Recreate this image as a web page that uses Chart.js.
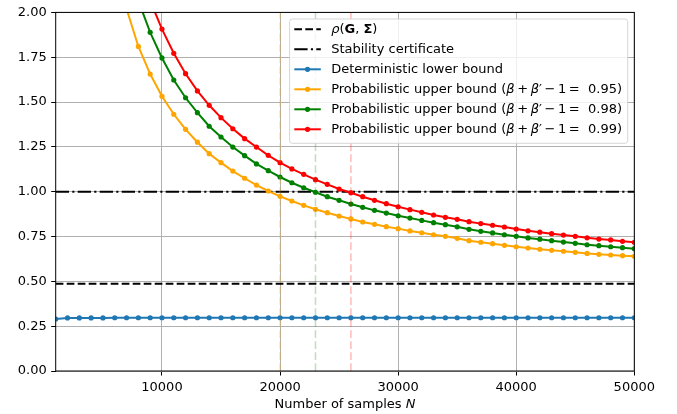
<!DOCTYPE html>
<html>
<head>
<meta charset="utf-8">
<script src="https://cdn.jsdelivr.net/npm/chart.js@4/dist/chart.umd.min.js"></script>
<style>
html,body{margin:0;padding:0;background:#fff;}
#c{display:block;}
</style>
</head>
<body>
<canvas id="c" width="677" height="414" style="width:677px;height:414px"></canvas>
<script>
// ---------------- data ----------------
const samplesN = [1000,2000,3000,4000,5000,6000,7000,8000,9000,10000,
  11000,12000,13000,14000,15000,16000,17000,18000,19000,20000,
  21000,22000,23000,24000,25000,26000,27000,28000,29000,30000,
  31000,32000,33000,34000,35000,36000,37000,38000,39000,40000,
  41000,42000,43000,44000,45000,46000,47000,48000,49000,50000];
const xTickValues = [10000,20000,30000,40000,50000];
const rhoValue = 0.487;
const stabilityValue = 1.0;
const deterministicLB = [0.290,0.296,0.296,0.296,0.296,0.297,0.297,0.297,0.297,0.297,
  0.297,0.297,0.297,0.297,0.297,0.297,0.297,0.297,0.297,0.297,
  0.297,0.297,0.297,0.297,0.297,0.297,0.297,0.297,0.297,0.297,
  0.297,0.297,0.297,0.297,0.297,0.297,0.297,0.297,0.297,0.297,
  0.297,0.297,0.297,0.297,0.297,0.297,0.297,0.297,0.297,0.297];
const probUB095 = [null,null,null,null,null,null,2.020,1.810,1.656,1.532,
  1.432,1.348,1.276,1.212,1.162,1.115,1.075,1.037,1.004,0.974,
  0.948,0.924,0.902,0.883,0.864,0.848,0.831,0.818,0.805,0.794,
  0.781,0.771,0.760,0.751,0.740,0.727,0.718,0.710,0.701,0.693,
  0.686,0.679,0.673,0.668,0.662,0.656,0.651,0.647,0.643,0.640];
const probUB098 = [null,null,null,null,null,null,null,2.065,1.889,1.746,
  1.623,1.524,1.441,1.365,1.305,1.249,1.201,1.155,1.117,1.082,
  1.050,1.022,0.997,0.972,0.952,0.931,0.913,0.896,0.881,0.866,
  0.853,0.840,0.827,0.816,0.804,0.790,0.779,0.770,0.760,0.751,
  0.742,0.735,0.727,0.719,0.712,0.704,0.699,0.693,0.688,0.682];
const probUB099 = [null,null,null,null,null,null,null,null,2.065,1.907,
  1.772,1.658,1.562,1.482,1.413,1.351,1.296,1.249,1.203,1.162,
  1.127,1.097,1.067,1.041,1.015,0.994,0.972,0.952,0.933,0.916,
  0.900,0.885,0.870,0.857,0.846,0.833,0.822,0.813,0.803,0.792,
  0.782,0.774,0.766,0.758,0.751,0.743,0.736,0.731,0.723,0.718];
const crossingN = [20000, 23000, 26000];

// label segments: [text, style] with style '' normal, 'i' italic, 'b' bold
const labelRho = [['ρ','i'],['(',''],['G','b'],[', ',''],['Σ','b'],[')','']];
const labelStab = [['Stability certificate','']];
const labelDet = [['Deterministic lower bound','']];
const probLabel = conf => [['Probabilistic upper bound (',''],['β','i'],['\u2009+\u2009',''],['β','i'],['′',''],['\u2009−\u20091\u2009=  ' + conf + ')','']];
const labelP95 = probLabel('0.95');
const labelP98 = probLabel('0.98');
const labelP99 = probLabel('0.99');
const xTitle = [['Number of samples ',''],['N','i']];

// ---------------- helpers ----------------
const FAMILY = '"DejaVu Sans"';
const FS = 13;
function fontFor(style, size){
  if (style === 'i') return 'italic ' + size + 'px ' + FAMILY;
  if (style === 'b') return 'bold ' + size + 'px ' + FAMILY;
  return size + 'px ' + FAMILY;
}
function segWidth(ctx, segs, size){
  let w = 0;
  for (const [t,s] of segs){ ctx.font = fontFor(s,size); w += ctx.measureText(t).width; }
  return w;
}
function drawSegs(ctx, segs, x, y, size){
  for (const [t,s] of segs){ ctx.font = fontFor(s,size); ctx.fillText(t,x,y); x += ctx.measureText(t).width; }
}
const pts = vals => samplesN.map((n,i) => ({x:n, y:vals[i]}));
const hline = v => [{x:samplesN[0], y:v},{x:samplesN[samplesN.length-1], y:v}];
const vline = n => [{x:n, y:0},{x:n, y:2}];

const DASHED = [7.7,3.3];
const DASHDOT = [13.3,3.3,2.1,3.3];
const LW = 2;
const PR = 2.6;

function series(vals, color, segs, order){
  return {data: pts(vals), borderColor: color, backgroundColor: color, borderWidth: LW,
    pointRadius: PR, pointBorderWidth: 0, pointBackgroundColor: color, pointHoverRadius: PR,
    fill:false, tension:0, clip:0, order: order, legendSegs: segs};
}

const datasets = [
  {data: hline(rhoValue), borderColor:'#000', borderWidth:LW, borderDash:DASHED, pointRadius:0, fill:false, clip:0, order:6, legendSegs: labelRho},
  {data: hline(stabilityValue), borderColor:'#000', borderWidth:LW, borderDash:DASHDOT, pointRadius:0, fill:false, clip:0, order:5, legendSegs: labelStab},
  series(deterministicLB, '#1f77b4', labelDet, 4),
  series(probUB095, '#ffa500', labelP95, 3),
  series(probUB098, '#008000', labelP98, 2),
  series(probUB099, '#ff0000', labelP99, 1),
  {data: vline(crossingN[0]), borderColor:'rgba(255,165,0,0.3)', borderWidth:1.6, borderDash:DASHED, pointRadius:0, fill:false, clip:0, order:0},
  {data: vline(crossingN[1]), borderColor:'rgba(0,128,0,0.25)', borderWidth:1.6, borderDash:DASHED, pointRadius:0, fill:false, clip:0, order:0},
  {data: vline(crossingN[2]), borderColor:'rgba(255,0,0,0.25)', borderWidth:1.6, borderDash:DASHED, pointRadius:0, fill:false, clip:0, order:0}
];

// ---------------- plugins ----------------
const framePlugin = {
  id:'frame',
  afterDatasetsDraw(chart){
    const {ctx, chartArea:a} = chart;
    ctx.save();
    ctx.strokeStyle = '#000'; ctx.lineWidth = 1;
    ctx.strokeRect(a.left, a.top, a.right - a.left, a.bottom - a.top);
    ctx.restore();
  }
};

const xTitlePlugin = {
  id:'xtitle',
  afterDraw(chart){
    const {ctx, chartArea:a} = chart;
    ctx.save();
    ctx.fillStyle = '#000'; ctx.textBaseline = 'alphabetic'; ctx.textAlign = 'left';
    const w = segWidth(ctx, xTitle, FS);
    drawSegs(ctx, xTitle, (a.left + a.right)/2 - w/2, 408, FS);
    ctx.restore();
  }
};

const legendPlugin = {
  id:'mplLegend',
  afterDraw(chart){
    const {ctx, chartArea:a} = chart;
    const items = chart.data.datasets.filter(d => d.legendSegs);
    ctx.save();
    let maxW = 0;
    for (const d of items) maxW = Math.max(maxW, segWidth(ctx, d.legendSegs, FS));
    const pad = 5.2, handle = 26.5, gap = 10.4, rowH = 20;
    const bw = pad + handle + gap + maxW + pad;
    const bh = 10.3 + (items.length - 1) * rowH + 14;
    const bx = a.right - 6.6 - bw, by = a.top + 6.6;
    ctx.beginPath();
    if (ctx.roundRect) ctx.roundRect(bx, by, bw, bh, 2.6); else ctx.rect(bx, by, bw, bh);
    ctx.fillStyle = 'rgba(255,255,255,0.8)'; ctx.fill();
    ctx.strokeStyle = 'rgba(204,204,204,0.8)'; ctx.lineWidth = 1; ctx.stroke();
    items.forEach((d, i) => {
      const cy = by + 10.3 + i * rowH;
      const hx = bx + pad - 0.5;
      ctx.save();
      ctx.strokeStyle = d.borderColor; ctx.lineWidth = d.borderWidth;
      ctx.setLineDash(d.borderDash || []);
      ctx.beginPath(); ctx.moveTo(hx, cy); ctx.lineTo(hx + handle, cy); ctx.stroke();
      ctx.restore();
      if (d.pointRadius > 0){
        ctx.beginPath(); ctx.arc(hx + handle/2, cy, d.pointRadius, 0, Math.PI*2);
        ctx.fillStyle = d.pointBackgroundColor; ctx.fill();
      }
      ctx.fillStyle = '#000'; ctx.textBaseline = 'middle'; ctx.textAlign = 'left';
      drawSegs(ctx, d.legendSegs, hx + handle + gap, cy, FS);
    });
    ctx.restore();
  }
};

// ---------------- chart ----------------
const tickFont = {family:'DejaVu Sans', size:FS};
new Chart(document.getElementById('c'), {
  type:'line',
  data:{datasets},
  options:{
    responsive:false, animation:false, events:[],
    layout:{padding:{left:0, right:42.7, top:12.4, bottom:0}},
    plugins:{legend:{display:false}, tooltip:{enabled:false}, title:{display:false}},
    scales:{
      x:{type:'linear', min:1000, max:50000,
        afterBuildTicks: s => { s.ticks = xTickValues.map(v => ({value:v})); },
        afterFit: s => { s.height = 43; },
        ticks:{callback: v => String(v), font:tickFont, color:'#000', padding:4.5, maxRotation:0, autoSkip:false},
        grid:{color:'#b0b0b0', lineWidth:1, tickColor:'#000', tickLength:4.5, drawTicks:true},
        border:{display:false}
      },
      y:{type:'linear', min:0, max:2,
        afterFit: s => { s.width = 55.7; },
        ticks:{stepSize:0.25, callback: v => Number(v).toFixed(2), font:tickFont, color:'#000', padding:4.5},
        grid:{color:'#b0b0b0', lineWidth:1, tickColor:'#000', tickLength:4.5, drawTicks:true},
        border:{display:false}
      }
    }
  },
  plugins:[framePlugin, xTitlePlugin, legendPlugin]
});
</script>
</body>
</html>
